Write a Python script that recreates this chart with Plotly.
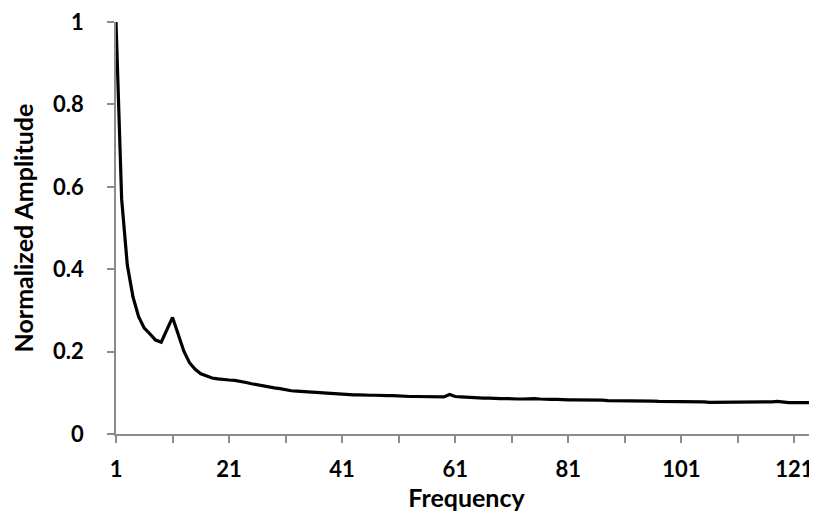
import plotly.graph_objects as go

frequency = list(range(1, 126))
amplitude = [
    1.000, 0.570, 0.410, 0.333, 0.285, 0.257, 0.243, 0.228, 0.223, 0.255,
    0.283, 0.242, 0.201, 0.173, 0.157, 0.146, 0.140, 0.136, 0.134, 0.132,
    0.131, 0.130, 0.128, 0.125, 0.122, 0.119, 0.116, 0.114, 0.112, 0.110,
    0.107, 0.105, 0.104, 0.103, 0.102, 0.101, 0.100, 0.099, 0.098, 0.097,
    0.096, 0.096, 0.095, 0.095, 0.094, 0.094, 0.094, 0.093, 0.093, 0.093,
    0.092, 0.092, 0.091, 0.091, 0.091, 0.090, 0.090, 0.090, 0.090, 0.096,
    0.091, 0.090, 0.089, 0.088, 0.088, 0.087, 0.087, 0.086, 0.086, 0.086,
    0.085, 0.085, 0.085, 0.086, 0.086, 0.085, 0.084, 0.084, 0.084, 0.083,
    0.083, 0.083, 0.083, 0.082, 0.082, 0.082, 0.082, 0.081, 0.081, 0.081,
    0.081, 0.080, 0.080, 0.080, 0.080, 0.080, 0.079, 0.079, 0.079, 0.079,
    0.079, 0.079, 0.078, 0.078, 0.078, 0.077, 0.077, 0.078, 0.078, 0.077,
    0.077, 0.077, 0.077, 0.078, 0.077, 0.077, 0.078, 0.079, 0.077, 0.076,
    0.076, 0.076, 0.077, 0.077, 0.076,
]
x_tick_vals = [1, 21, 41, 61, 81, 101, 121]
y_tick_vals = [0, 0.2, 0.4, 0.6, 0.8, 1]
y_tick_text = ["0", "0.2", "0.4", "0.6", "0.8", "1"]

FONT = "Lato"
AXIS_COLOR = "#8c8c8c"

fig = go.Figure()
fig.add_trace(go.Scatter(
    x=frequency, y=amplitude, mode="lines",
    line=dict(color="black", width=3.2),
    cliponaxis=False, showlegend=False,
))

fig.update_layout(
    width=809, height=508,
    margin=dict(l=108, r=0, t=12, b=82),
    paper_bgcolor="white", plot_bgcolor="white",
    font=dict(family=FONT, color="black"),
)
fig.update_xaxes(
    range=[1, 125], tickvals=x_tick_vals, ticktext=[str(v) for v in x_tick_vals],
    showgrid=False, zeroline=False, showline=True, linecolor=AXIS_COLOR, linewidth=1.5,
    ticks="outside", ticklen=7, tickcolor=AXIS_COLOR, tickwidth=1.5,
    minor=dict(tick0=1, dtick=10, ticks="outside", ticklen=7, tickcolor=AXIS_COLOR, tickwidth=1.5),
    tickfont=dict(family=FONT, size=22, color="black", weight="bold"),
    ticklabelstandoff=8, ticklabeloverflow="allow",
    title=dict(text="<b>Frequency</b>", font=dict(family=FONT, size=25, color="black"), standoff=4),
)
fig.update_yaxes(
    range=[0, 1], tickvals=y_tick_vals, ticktext=y_tick_text,
    showgrid=False, zeroline=False, showline=True, linecolor=AXIS_COLOR, linewidth=1.5,
    ticks="outside", ticklen=7, tickcolor=AXIS_COLOR, tickwidth=1.5,
    tickfont=dict(family=FONT, size=22, color="black", weight="bold"),
    ticklabelstandoff=19, ticklabeloverflow="allow",
    title=dict(text="<b>Normalized Amplitude</b>", font=dict(family=FONT, size=25, color="black"), standoff=24),
)

fig.write_html("out.html")
